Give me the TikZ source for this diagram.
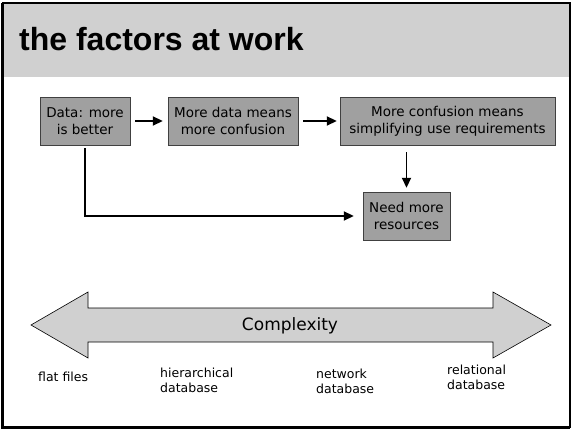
\documentclass[tikz,border=0pt]{standalone}
\usepackage{fontspec}
\setmainfont{DejaVu Sans}
\newfontfamily\titlefont{Liberation Sans}
\usetikzlibrary{arrows.meta}

\definecolor{bandgray}{HTML}{D0D0D0}
\definecolor{boxgray}{HTML}{A0A0A0}

\tikzset{
  factor/.style={draw=black!75, fill=boxgray, align=center, inner sep=0pt,
    minimum height=48pt, font=\fontsize{13.5}{17}\selectfont},
  flow/.style={-{Triangle[length=10pt,width=9pt]}, line width=1.8pt},
  era/.style={align=left, anchor=west, inner sep=0pt,
    font=\fontsize{12.5}{15}\selectfont}
}

\begin{document}
\begin{tikzpicture}[x=1pt,y=-1pt]
  \useasboundingbox (0,0) rectangle (572,430);
  % frame and title band
  \fill[bandgray] (3,3) rectangle (570,77);
  \draw[line width=1.5pt] (3,3) rectangle (570,427);
  \draw[line width=2.5pt] (2.5,3) -- (2.5,427.5) -- (570,427.5);
  \node[anchor=base west, inner sep=0pt,
    font=\titlefont\bfseries\fontsize{32}{36}\selectfont] (title) at (19,51) {the factors at work};

  % the factors
  \node[factor, minimum width=90pt] (data) at (85,121) {Data: more\\is better};
  \node[factor, minimum width=130pt] (moredata) at (233,121) {More data means\\more confusion};
  \node[factor, minimum width=215pt] (confusion) at (447.5,121) {More confusion means\\simplifying use requirements};
  \node[factor, minimum width=87pt] (resources) at (406.5,216) {Need more\\resources};

  \draw[flow, shorten <=5pt, shorten >=5pt] (data) -- (moredata);
  \draw[flow, shorten <=5pt, shorten >=3pt] (moredata) -- (confusion);
  \draw[flow, shorten <=7pt, shorten >=4pt] (resources.north |- confusion.south) -- (resources.north);
  \draw[flow, shorten <=3pt, shorten >=9pt] (data.south) |- (resources.west);

  % complexity scale
  \draw[fill=bandgray, line width=0.6pt] (31,325) -- (88,292) -- (88,308) -- (493,308)
    -- (493,292) -- (551,325) -- (493,358) -- (493,342) -- (88,342) -- (88,358) -- cycle;
  \node[inner sep=0pt, font=\fontsize{17}{20}\selectfont] (complexity) at (290,326) {Complexity};

  \node[era] (flat) at (38,377) {flat files};
  \node[era] (hier) at (160,380) {hierarchical\\database};
  \node[era] (network) at (316,381) {network\\database};
  \node[era] (relational) at (447,377) {relational\\database};
\end{tikzpicture}
\end{document}
